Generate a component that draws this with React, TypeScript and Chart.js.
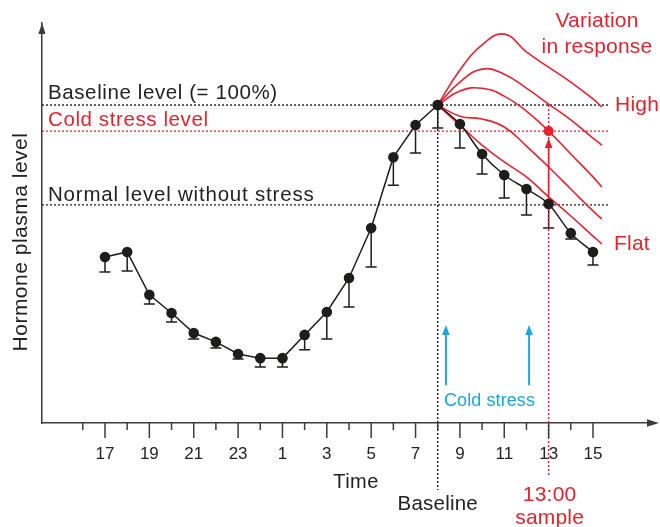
import React, { useEffect, useRef } from "react";
import { Chart, registerables } from "chart.js";

Chart.register(...registerables);

// ---------- data ----------
// clock hour of each sample (16:00 on day 1 is elapsed hour 0)
const sampleClock = [17, 18, 19, 20, 21, 22, 23, 0, 1, 2, 3, 4, 5, 6, 7, 8, 9, 10, 11, 12, 13, 14, 15];
// mean hormone level, % of baseline
const hormoneMean = [52.2, 53.8, 40.3, 34.6, 28.3, 25.5, 21.7, 20.4, 20.4, 27.7, 34.9, 45.6, 61.3, 83.6, 93.7, 100, 94.0, 84.6, 78.0, 73.6, 68.9, 59.7, 53.8];
// lower end of the error bar, % of baseline
const hormoneLower = [47.5, 47.8, 37.4, 31.8, 26.4, 23.6, 20.1, 17.6, 17.6, 23.0, 26.4, 36.5, 49.1, 74.8, 84.9, 92.8, 86.5, 78.3, 70.8, 65.4, 61.3, 57.9, 49.7];

// response curves after cold stress (clock hour, % of baseline)
const responseClock = [8, 9, 10, 11, 12, 13, 14, 15, 15.4];
const responseHigh = [100, 111.0, 118.9, 122.3, 116.7, 111.9, 107.2, 101.9, 99.4];
const responseUpper = [100, 107.2, 111.3, 109.7, 105.3, 100.3, 95.3, 89.6, 87.4];
const responseMiddle = [100, 104.4, 105.3, 102.8, 98.1, 91.8, 84.6, 77.4, 74.2];
const responseLower = [100, 96.5, 95.6, 93.1, 87.1, 80.5, 73.6, 66.7, 64.2];
const responseFlat = [100, 93.7, 87.4, 82.1, 77.4, 71.1, 65.1, 58.8, 56.3];

// reference levels (% of baseline)
const baselineLevel = 100;
const coldStressLevel = 91.8;
const normalLevel = 68.6;

// axis tick hours (clock)
const tickClock = [16, 17, 18, 19, 20, 21, 22, 23, 0, 1, 2, 3, 4, 5, 6, 7, 8, 9, 10, 11, 12, 13, 14, 15];

// events
const baselineClock = 8;
const sampleTimeClock = 13;
const coldStressClock = [8.37, 12.12];
const coldArrowFrom = 11.9;
const coldArrowTo = 30.8;

// ---------- styling ----------
const FONT = '"Liberation Sans", Arial, sans-serif';
const BLACK = "#1d1d1b";
const RED = "#e52330";
const BLUE = "#1aa6e0";
const AXIS = "#3c3c3c";
const TEXT = "#222222";

const X_MIN = -1.84;
const X_MAX = 25.48;
const Y_MAX = 125.8;
const DOT_END = 23.77;
const BASE_DROP = -21.1;
const SAMPLE_DROP = -16.4;

const elapsed = (c: number) => (c - 16 + 24) % 24;

const pts = (clock: number[], vals: number[]) => clock.map((c, i) => ({ x: elapsed(c), y: vals[i] }));

const risingIdx = sampleClock.map((_, i) => i).filter((i) => i <= sampleClock.indexOf(baselineClock));
const fallingIdx = sampleClock.map((_, i) => i).filter((i) => i >= sampleClock.indexOf(baselineClock));

function txt(
  ctx: CanvasRenderingContext2D,
  s: string,
  x: number,
  y: number,
  color: string,
  size: number,
  align: CanvasTextAlign = "left",
  spacing = 0
) {
  ctx.save();
  ctx.font = `${size}px ${FONT}`;
  (ctx as any).letterSpacing = `${spacing}px`;
  ctx.fillStyle = color;
  ctx.textAlign = align;
  ctx.textBaseline = "alphabetic";
  ctx.fillText(s, x, y);
  ctx.restore();
}

function arrowUp(ctx: CanvasRenderingContext2D, x: number, yFrom: number, yTip: number, color: string, w: number, headLen: number, headHalf: number) {
  ctx.save();
  ctx.strokeStyle = color;
  ctx.fillStyle = color;
  ctx.lineWidth = w;
  ctx.beginPath();
  ctx.moveTo(x, yFrom);
  ctx.lineTo(x, yTip + headLen - 1);
  ctx.stroke();
  ctx.beginPath();
  ctx.moveTo(x, yTip);
  ctx.lineTo(x - headHalf, yTip + headLen);
  ctx.lineTo(x + headHalf, yTip + headLen);
  ctx.closePath();
  ctx.fill();
  ctx.restore();
}

const overlay = {
  id: "overlay",
  beforeDatasetsDraw(chart: any) {
    const { ctx } = chart;
    const xs = chart.scales.x;
    const ys = chart.scales.y;
    ctx.save();
    ctx.strokeStyle = BLACK;
    ctx.lineWidth = 1.5;
    sampleClock.forEach((c, i) => {
      const px = xs.getPixelForValue(elapsed(c));
      const y0 = ys.getPixelForValue(hormoneMean[i]);
      const y1 = ys.getPixelForValue(hormoneLower[i]);
      ctx.beginPath();
      ctx.moveTo(px, y0);
      ctx.lineTo(px, y1);
      ctx.moveTo(px - 5.5, y1);
      ctx.lineTo(px + 5.5, y1);
      ctx.stroke();
    });
    ctx.restore();
  },
  afterDraw(chart: any) {
    const { ctx, chartArea } = chart;
    const xs = chart.scales.x;
    const ys = chart.scales.y;
    const bottom = chartArea.bottom;

    // tick marks
    ctx.save();
    ctx.strokeStyle = AXIS;
    ctx.lineWidth = 1.5;
    tickClock.forEach((c) => {
      const px = xs.getPixelForValue(elapsed(c));
      const len = c % 2 === 1 ? 15 : 7;
      ctx.beginPath();
      ctx.moveTo(px, bottom);
      ctx.lineTo(px, bottom + len);
      ctx.stroke();
    });
    // axis arrowheads
    ctx.fillStyle = AXIS;
    ctx.beginPath();
    ctx.moveTo(chartArea.right + 11, bottom);
    ctx.lineTo(chartArea.right - 1, bottom - 3.8);
    ctx.lineTo(chartArea.right - 1, bottom + 3.8);
    ctx.closePath();
    ctx.fill();
    ctx.beginPath();
    ctx.moveTo(chartArea.left, chartArea.top);
    ctx.lineTo(chartArea.left - 3.6, chartArea.top + 11);
    ctx.lineTo(chartArea.left + 3.6, chartArea.top + 11);
    ctx.closePath();
    ctx.fill();
    ctx.restore();

    // red arrow from 13:00 mean to cold-stress dot
    const sx = xs.getPixelForValue(elapsed(sampleTimeClock));
    const meanAt13 = hormoneMean[sampleClock.indexOf(sampleTimeClock)];
    arrowUp(ctx, sx, ys.getPixelForValue(meanAt13) - 5, ys.getPixelForValue(coldStressLevel) + 7, RED, 1.6, 10, 3.8);

    // blue cold-stress arrows
    coldStressClock.forEach((c) => {
      arrowUp(ctx, xs.getPixelForValue(elapsed(c)), ys.getPixelForValue(coldArrowFrom), ys.getPixelForValue(coldArrowTo), BLUE, 2, 10, 3.8);
    });

    // texts
    const L = chartArea.left + 6;
    const yb = ys.getPixelForValue(baselineLevel);
    const yc = ys.getPixelForValue(coldStressLevel);
    const yn = ys.getPixelForValue(normalLevel);
    txt(ctx, "Baseline level (= 100%)", L, yb - 6, TEXT, 20.5, "left", 0.6);
    txt(ctx, "Cold stress level", L, yc - 5, RED, 20.5, "left", 0.6);
    txt(ctx, "Normal level without stress", L, yn - 4, TEXT, 20.5, "left", 0.8);

    const endX = xs.getPixelForValue(DOT_END);
    txt(ctx, "Variation", 597, 27, RED, 21, "center", 0.2);
    txt(ctx, "in response", 597, 53, RED, 21, "center", 0.2);
    txt(ctx, "High", endX + 5, yb + 6, RED, 21, "left", 0.2);
    txt(ctx, "Flat", endX + 4, ys.getPixelForValue(responseFlat[responseFlat.length - 1]) + 6, RED, 21, "left", 0.2);

    txt(ctx, "Cold stress", xs.getPixelForValue(elapsed(coldStressClock[0])) - 2, bottom - 17, BLUE, 18, "left", 0.1);

    const bx = xs.getPixelForValue(elapsed(baselineClock));
    txt(ctx, "Time", (chartArea.left + chartArea.right) / 2 + 11, bottom + 65, TEXT, 20, "center", 0.4);
    txt(ctx, "Baseline", bx, bottom + 87, TEXT, 20.5, "center", 0.2);
    txt(ctx, "13:00", sx + 1, bottom + 78, RED, 21, "center", 0.2);
    txt(ctx, "sample", sx + 1, bottom + 101, RED, 21, "center", 0.2);

    // y title
    ctx.save();
    ctx.translate(27, 242);
    ctx.rotate(-Math.PI / 2);
    ctx.font = `21px ${FONT}`;
    (ctx as any).letterSpacing = "0.5px";
    ctx.fillStyle = TEXT;
    ctx.textAlign = "center";
    ctx.textBaseline = "alphabetic";
    ctx.fillText("Hormone plasma level", 0, 0);
    ctx.restore();
  },
};

function curve(vals: number[]) {
  return {
    data: pts(responseClock, vals),
    showLine: true,
    borderColor: RED,
    borderWidth: 1.6,
    pointRadius: 0,
    tension: 0.45,
    order: 1,
  };
}

function dotted(data: { x: number; y: number }[], color: string) {
  return {
    data,
    showLine: true,
    borderColor: color,
    borderWidth: 1.4,
    borderDash: [2, 2],
    pointRadius: 0,
    clip: false as const,
    order: 2,
  };
}

export default function App() {
  const ref = useRef<HTMLCanvasElement>(null);
  useEffect(() => {
    document.body.style.margin = "0";
    const chart = new Chart(ref.current as HTMLCanvasElement, {
      type: "scatter",
      data: {
        datasets: [
          {
            data: risingIdx.map((i) => ({ x: elapsed(sampleClock[i]), y: hormoneMean[i] })),
            showLine: true,
            borderColor: BLACK,
            borderWidth: 1.5,
            backgroundColor: BLACK,
            pointRadius: 5.3,
            pointBorderWidth: 0,
            order: 0,
          },
          {
            data: fallingIdx.map((i) => ({ x: elapsed(sampleClock[i]), y: hormoneMean[i] })),
            showLine: true,
            borderColor: BLACK,
            borderWidth: 1.5,
            backgroundColor: BLACK,
            pointRadius: 5.3,
            pointBorderWidth: 0,
            cubicInterpolationMode: "monotone",
            order: 0,
          },
          {
            data: [{ x: elapsed(sampleTimeClock), y: coldStressLevel }],
            backgroundColor: RED,
            pointRadius: 5,
            pointBorderWidth: 0,
            order: 0,
          },
          curve(responseHigh),
          curve(responseUpper),
          curve(responseMiddle),
          curve(responseLower),
          curve(responseFlat),
          dotted([{ x: X_MIN, y: baselineLevel }, { x: DOT_END, y: baselineLevel }], BLACK),
          dotted([{ x: X_MIN, y: coldStressLevel }, { x: DOT_END, y: coldStressLevel }], RED),
          dotted([{ x: X_MIN, y: normalLevel }, { x: DOT_END, y: normalLevel }], BLACK),
          dotted([{ x: elapsed(baselineClock), y: baselineLevel }, { x: elapsed(baselineClock), y: BASE_DROP }], BLACK),
          dotted([{ x: elapsed(sampleTimeClock), y: baselineLevel }, { x: elapsed(sampleTimeClock), y: SAMPLE_DROP }], RED),
        ] as any,
      },
      options: {
        responsive: false,
        animation: false,
        devicePixelRatio: 1,
        layout: { padding: { left: 42, right: 12, top: 23, bottom: 0 } },
        plugins: { legend: { display: false }, tooltip: { enabled: false } },
        scales: {
          x: {
            type: "linear",
            min: X_MIN,
            max: X_MAX,
            afterBuildTicks: (scale: any) => {
              scale.ticks = tickClock.map((c) => ({ value: elapsed(c) }));
            },
            afterFit: (scale: any) => {
              scale.height = 104;
            },
            ticks: {
              autoSkip: false,
              maxRotation: 0,
              padding: 21,
              color: TEXT,
              font: { family: FONT, size: 17 },
              callback: (v: any) => {
                const c = (Number(v) + 16) % 24;
                return c % 2 === 1 ? String(c) : "";
              },
            },
            grid: { drawOnChartArea: false, drawTicks: false },
            border: { display: true, color: AXIS, width: 1.5 },
          },
          y: {
            type: "linear",
            min: 0,
            max: Y_MAX,
            afterFit: (scale: any) => {
              scale.width = 0;
            },
            ticks: { display: false },
            grid: { drawOnChartArea: false, drawTicks: false },
            border: { display: true, color: AXIS, width: 1.5 },
          },
        },
      } as any,
      plugins: [overlay],
    });
    return () => chart.destroy();
  }, []);
  return (
    <div style={{ width: 660, height: 527 }}>
      <canvas ref={ref} width={660} height={527} style={{ display: "block" }} />
    </div>
  );
}
